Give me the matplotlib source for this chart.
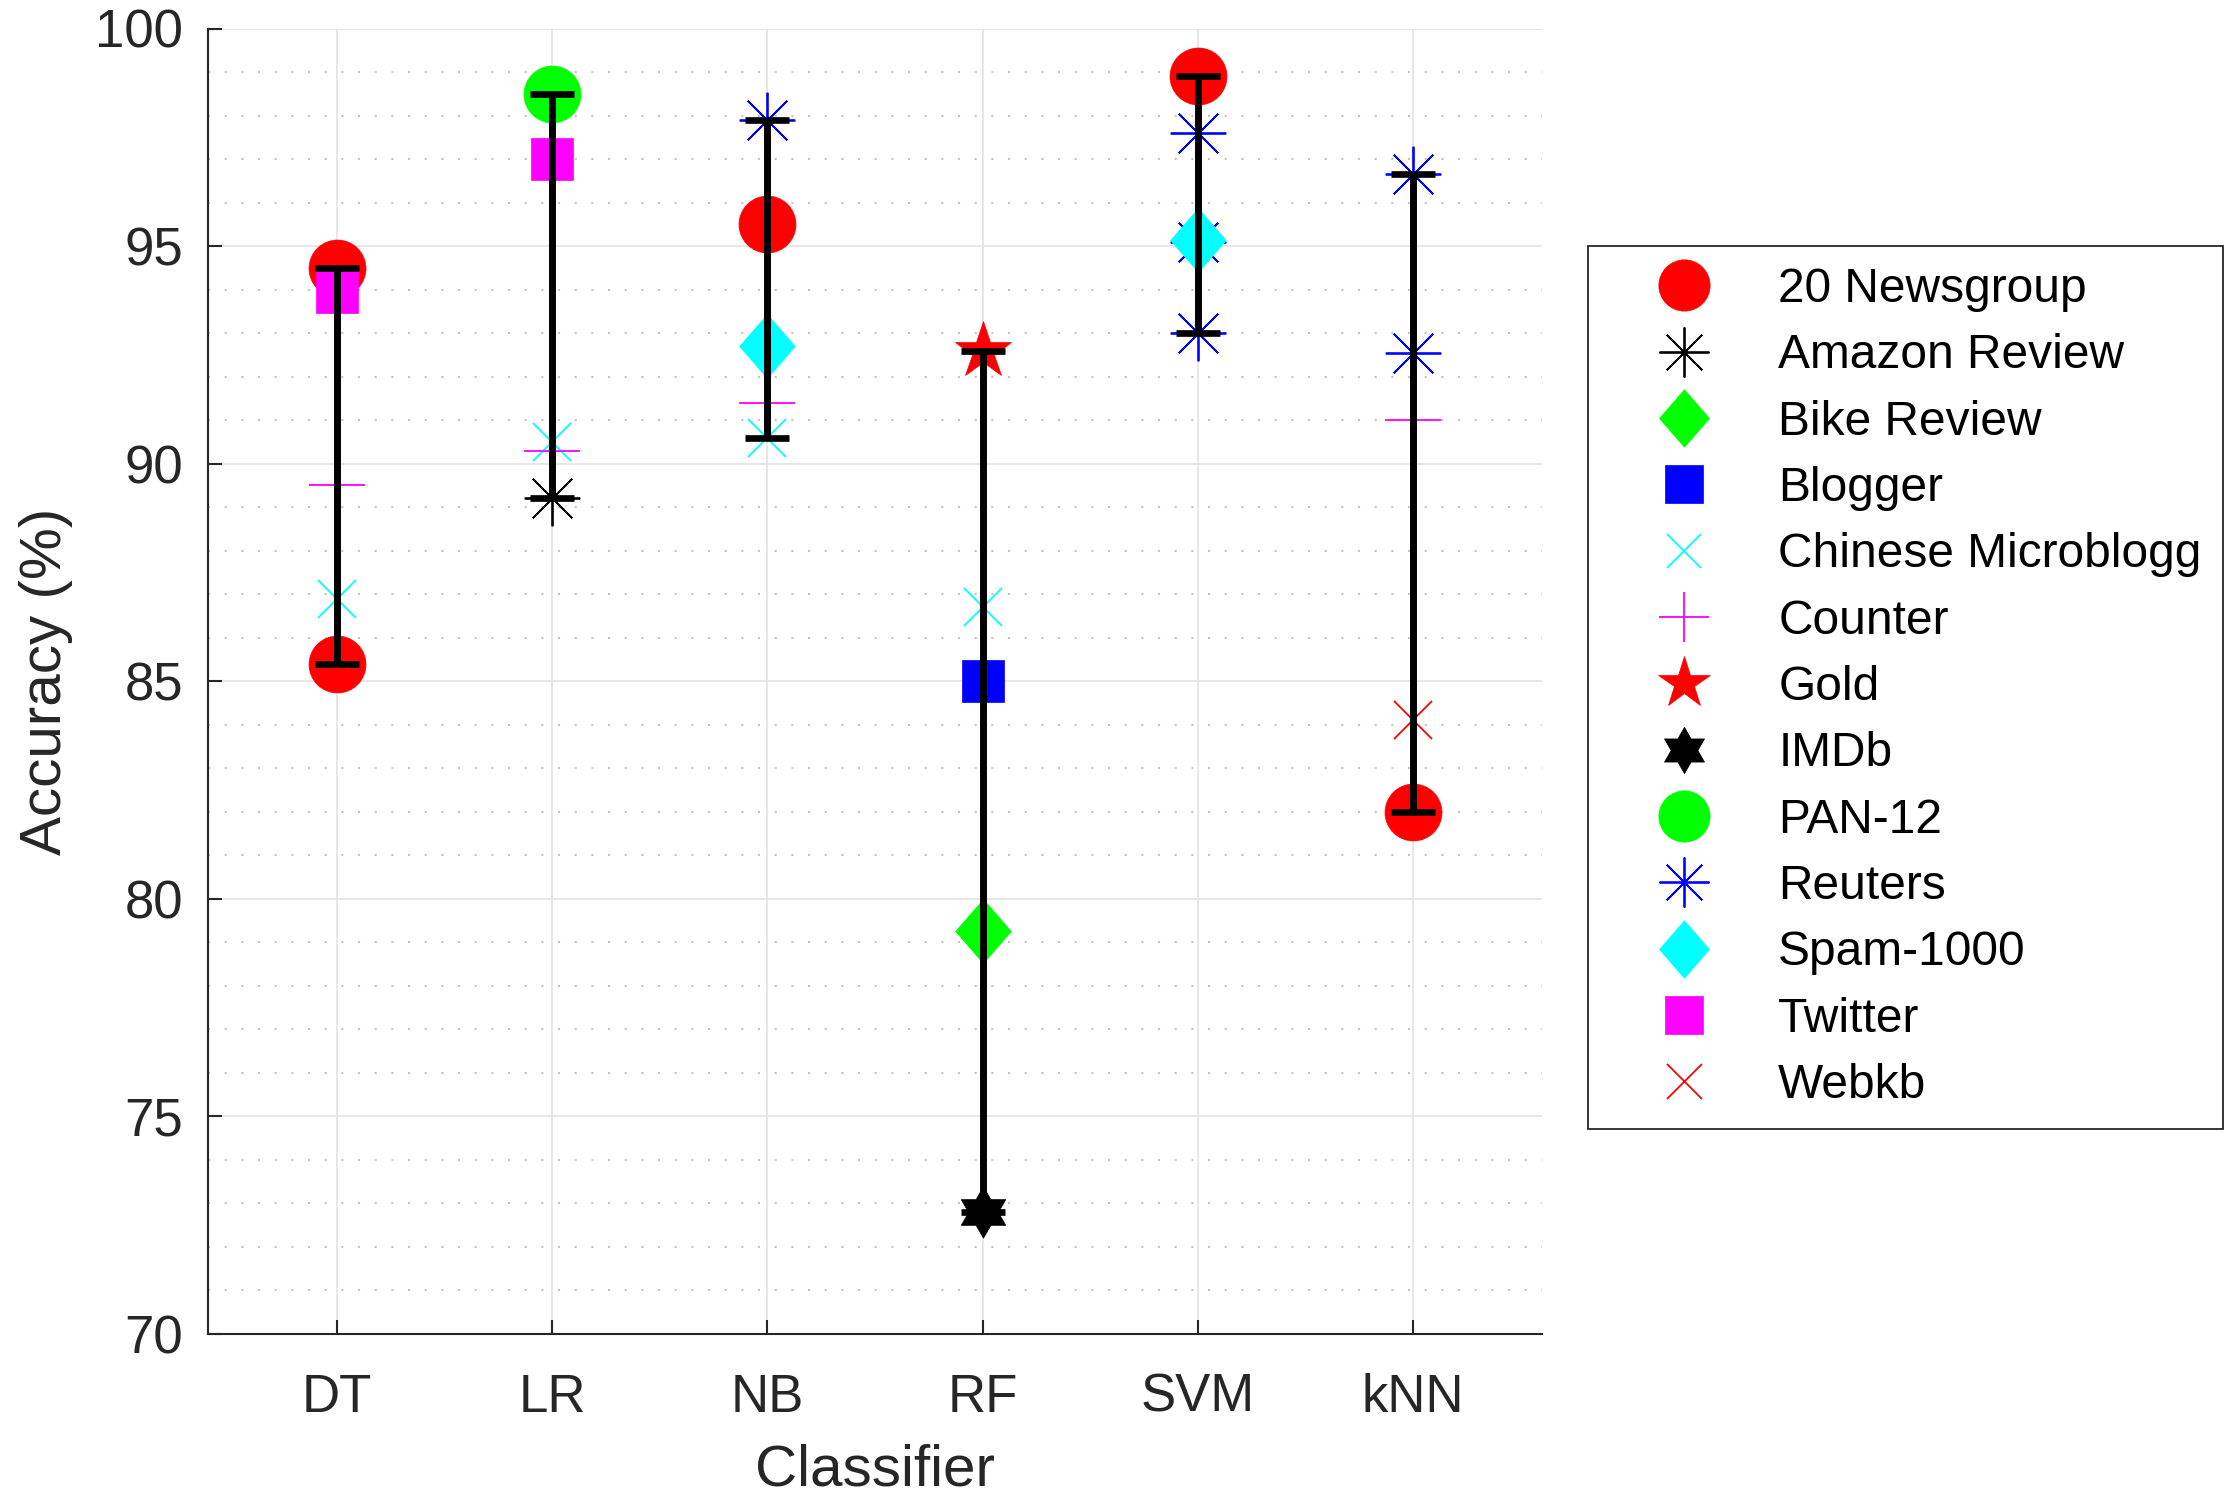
import matplotlib
matplotlib.use('Agg')
import matplotlib.pyplot as plt
from matplotlib.path import Path
from matplotlib.ticker import MultipleLocator
import numpy as np

plt.rcParams['font.family'] = ['Liberation Sans', 'DejaVu Sans']

# ---------------- data ----------------
classifiers = ['DT', 'LR', 'NB', 'RF', 'SVM', 'kNN']
datasets = ['20 Newsgroup', 'Amazon Review', 'Bike Review', 'Blogger',
            'Chinese Microblogg', 'Counter', 'Gold', 'IMDb', 'PAN-12',
            'Reuters', 'Spam-1000', 'Twitter', 'Webkb']

newsgroup_clf = ['DT', 'DT', 'NB', 'SVM', 'kNN']
newsgroup_acc = [94.5, 85.4, 95.5, 98.9, 82.0]
amazon_clf = ['LR']
amazon_acc = [89.2]
bike_clf = ['RF']
bike_acc = [79.25]
blogger_clf = ['RF']
blogger_acc = [85.0]
chinese_clf = ['DT', 'LR', 'NB', 'RF']
chinese_acc = [86.9, 90.5, 90.6, 86.7]
counter_clf = ['DT', 'LR', 'NB', 'kNN']
counter_acc = [89.5, 90.3, 91.4, 91.0]
gold_clf = ['RF']
gold_acc = [92.6]
imdb_clf = ['RF']
imdb_acc = [72.8]
pan_clf = ['LR']
pan_acc = [98.5]
reuters_clf = ['NB', 'SVM', 'SVM', 'SVM', 'kNN', 'kNN']
reuters_acc = [97.9, 97.6, 95.1, 93.0, 96.65, 92.55]
spam_clf = ['NB', 'SVM']
spam_acc = [92.7, 95.15]
twitter_clf = ['DT', 'LR']
twitter_acc = [93.95, 97.0]
webkb_clf = ['kNN']
webkb_acc = [84.1]

yticks = [70, 75, 80, 85, 90, 95, 100]

series = [
    (newsgroup_clf, newsgroup_acc), (amazon_clf, amazon_acc),
    (bike_clf, bike_acc), (blogger_clf, blogger_acc),
    (chinese_clf, chinese_acc), (counter_clf, counter_acc),
    (gold_clf, gold_acc), (imdb_clf, imdb_acc), (pan_clf, pan_acc),
    (reuters_clf, reuters_acc), (spam_clf, spam_acc),
    (twitter_clf, twitter_acc), (webkb_clf, webkb_acc),
]

# ---------------- styles ----------------
diamond = Path([(0, 1), (0.87, 0), (0, -1), (-0.87, 0), (0, 1)],
               [Path.MOVETO, Path.LINETO, Path.LINETO, Path.LINETO, Path.CLOSEPOLY])
hexagram = Path.unit_regular_star(6, 1 / np.sqrt(3))
asterisk = (8, 2, 0)

R, G, B, C, M, K = '#FF0000', '#00FF00', '#0000FF', '#00FFFF', '#FF00FF', '#000000'
# (marker, color, markersize, filled)
styles = [
    ('o', R, 41, True),
    (asterisk, K, 40, False),
    (diamond, G, 46, True),
    ('s', B, 30.5, True),
    ('x', C, 27.5, False),
    ('+', M, 40, False),
    ('*', R, 43, True),
    (hexagram, K, 37, True),
    ('o', G, 41, True),
    (asterisk, B, 40, False),
    (diamond, C, 46, True),
    ('s', M, 30.5, True),
    ('x', R, 28, False),
]

W, H = 2232, 1510
fig = plt.figure(figsize=(W / 100, H / 100), dpi=100)
ax = fig.add_axes([208 / W, 1 - 1334 / H, (1542 - 208) / W, (1334 - 28.5) / H])

xpos = {c: i + 1 for i, c in enumerate(classifiers)}

handles = []
for name, (clf, acc), (mk, col, ms, filled) in zip(datasets, series, styles):
    xs = [xpos[c] for c in clf]
    if filled:
        h, = ax.plot(xs, acc, linestyle='none', marker=mk, markersize=ms,
                     markerfacecolor=col, markeredgecolor=col,
                     markeredgewidth=0.5, zorder=3, label=name)
    else:
        h, = ax.plot(xs, acc, linestyle='none', marker=mk, markersize=ms,
                     markerfacecolor='none', markeredgecolor=col,
                     markeredgewidth=1.3, zorder=3, label=name)
    handles.append(h)

# min-max range bars per classifier
lo = {c: np.inf for c in classifiers}
hi = {c: -np.inf for c in classifiers}
for clf, acc in series:
    for c, a in zip(clf, acc):
        lo[c] = min(lo[c], a)
        hi[c] = max(hi[c], a)
bx = np.array([xpos[c] for c in classifiers])
blo = np.array([lo[c] for c in classifiers])
bhi = np.array([hi[c] for c in classifiers])
ax.errorbar(bx, (blo + bhi) / 2, yerr=(bhi - blo) / 2, fmt='none',
            ecolor='black', elinewidth=5, capsize=15.5, capthick=4.8, zorder=4)

# ---------------- axes ----------------
ax.set_xlim(0.4, 6.6)
ax.set_ylim(70, 100)
ax.set_xticks(bx)
ax.set_xticklabels(classifiers)
ax.set_yticks(yticks)
ax.yaxis.set_minor_locator(MultipleLocator(1))

dark = '#262626'
for s in ['top', 'right']:
    ax.spines[s].set_visible(False)
for s in ['left', 'bottom']:
    ax.spines[s].set_color(dark)
    ax.spines[s].set_linewidth(1.5)

ax.tick_params(axis='both', which='major', direction='in', length=10, width=1.5,
               colors=dark, labelsize=38, pad=18)
ax.tick_params(axis='x', which='major', pad=28)
ax.tick_params(axis='y', which='minor', length=0)

ax.grid(True, which='major', axis='both', color='#e3e3e3', linewidth=1.2, zorder=0)
ax.grid(True, which='minor', axis='y', color='#c4c4c4', linewidth=1.5,
        linestyle=(0, (1, 7)), zorder=0)
ax.set_axisbelow(True)

ax.set_xlabel('Classifier', fontsize=42, color=dark, labelpad=15)
ax.set_ylabel('Accuracy (%)', fontsize=42, color=dark, labelpad=16)

leg = ax.legend(handles=handles, labels=datasets, loc='upper left',
                bbox_to_anchor=(1588 / W, 1 - 246 / H), bbox_transform=fig.transFigure,
                fontsize=34.5, borderpad=0.44, handlelength=3.13, handletextpad=0.4,
                labelspacing=0.445, borderaxespad=0, fancybox=False,
                edgecolor=dark, framealpha=1, markerscale=0.9)
leg.get_frame().set_linewidth(1.3)
for t in leg.get_texts():
    t.set_color('black')

fig.savefig('out.png', dpi=100, facecolor='white')
